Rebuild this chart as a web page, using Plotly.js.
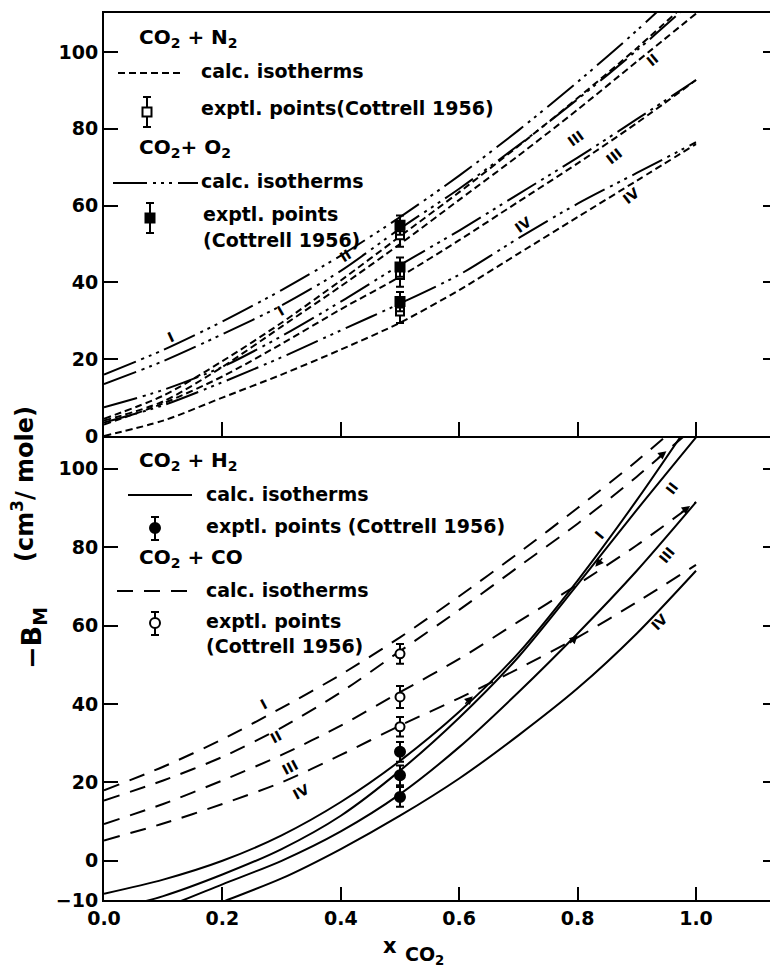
<!DOCTYPE html>
<html>
<head>
<meta charset="utf-8">
<script src="https://cdn.plot.ly/plotly-3.0.1.min.js"></script>
<style>html,body{margin:0;padding:0;background:#fff;}#chart{width:770px;height:973px;}</style>
</head>
<body>
<div id="chart"></div>
<script>
// ---------- data ----------
const xGrid = [0, 0.1, 0.2, 0.3, 0.4, 0.5, 0.6, 0.7, 0.8, 0.9, 1.0];

// upper panel: CO2 + N2 (dashed) and CO2 + O2 (dash-dot-dot), isotherms I..IV
const n2_I   = [4.5, 10.5, 19.5, 29.5, 40.5, 52, 63.5, 75.5, 88, 101, 115];
const n2_II  = [4, 9, 18, 28.5, 39, 50, 61.5, 73, 85, 97.5, 110];
const n2_III = [3, 8.5, 15.5, 24, 33, 41.5, 51, 61, 71, 81.5, 92.7];
const n2_IV  = [0, 4, 10, 16, 22.5, 29.5, 38, 47.5, 57, 66.5, 76];
const o2_I   = [16, 22.4, 29.8, 38, 47, 57, 67.8, 79.6, 92.2, 105.6, 120];
const o2_II  = [13.5, 19.5, 26.5, 34, 43, 54, 64.4, 75.7, 87.7, 100.4, 114];
const o2_III = [7.5, 12, 18, 26, 35, 44.5, 53.5, 63, 72.5, 82.5, 92.7];
const o2_IV  = [3.5, 8, 14, 20.5, 27.5, 34.5, 42, 51.5, 60.5, 68.5, 76.5];

// lower panel: CO2 + H2 (solid) and CO2 + CO (long dashes)
const h2_I   = [-8.4, -4.8, 0, 6.5, 15, 25.5, 38, 53, 71.5, 92, 114];
const h2_II  = [-13, -9, -3.5, 3, 11.5, 23, 36.5, 52, 70.5, 89.5, 108];
const h2_III = [-17, -12, -6, 0, 7.5, 17, 29, 43, 58, 74, 91.5];
const h2_IV  = [-21, -16.5, -10.5, -4.5, 3, 11.5, 21, 32, 44, 58, 74];
const co_I   = [18, 24, 31, 39, 47.5, 57, 67.5, 78.5, 90, 102, 115];
const co_II  = [15.4, 20.5, 26.5, 34, 43, 53.5, 64, 75, 86, 98, 111];
const co_III = [9.4, 14.5, 20.5, 27, 34.5, 43, 51.5, 61, 70.5, 80.5, 91.5];
const co_IV  = [5.2, 9.5, 14.5, 20, 27, 34.5, 41.5, 49, 57, 66, 75.5];

// experimental points (Cottrell 1956) at x = 0.5
const ptX     = [0.5, 0.5, 0.5];
const n2Pts   = [52.3, 41.9, 32.4];
const n2Err   = [3, 3, 3];
const o2Pts   = [54.9, 44.0, 35.0];
const o2Err   = [2.5, 2.5, 2.5];
const h2Pts   = [27.8, 21.8, 16.3];
const h2Err   = [2.5, 2.5, 2.5];
const coPts   = [52.8, 41.8, 34.2];
const coErr   = [2.5, 2.8, 2.5];

// tick labels
const xTickVals  = [0, 0.2, 0.4, 0.6, 0.8, 1.0];
const xTickText  = ['0.0', '0.2', '0.4', '0.6', '0.8', '1.0'];
const yTopTicks  = [0, 20, 40, 60, 80, 100];
const yBotTicks  = [-10, 0, 20, 40, 60, 80, 100];

// curve labels (roman numerals)
const topLabels = [
  {t:'I',   x:0.113, y:25.8, a:-25},
  {t:'I',   x:0.298, y:32.5, a:-30},
  {t:'II',  x:0.407, y:47.0, a:-32},
  {t:'IV',  x:0.707, y:55.0, a:-35},
  {t:'III', x:0.798, y:77.5, a:-36},
  {t:'III', x:0.862, y:73.0, a:-38},
  {t:'IV',  x:0.890, y:62.5, a:-38},
  {t:'II',  x:0.926, y:98.0, a:-40}
];
const botLabels = [
  {t:'I',   x:0.270, y:40.0, a:-28},
  {t:'II',  x:0.290, y:31.5, a:-28},
  {t:'III', x:0.315, y:24.0, a:-28},
  {t:'IV',  x:0.332, y:17.5, a:-28},
  {t:'I',   x:0.837, y:83.0, a:-50},
  {t:'II',  x:0.960, y:95.0, a:-52},
  {t:'III', x:0.951, y:78.0, a:-50},
  {t:'IV',  x:0.938, y:61.0, a:-45}
];
// small arrow marks drawn on the lower-panel curves (head position, tail offset in px)
const botArrows = [
  {x:0.830, y:75.0, ax:8,   ay:-10},
  {x:0.623, y:42.0, ax:-9,  ay:9},
  {x:0.800, y:57.5, ax:-9,  ay:9},
  {x:0.950, y:104.5, ax:-10, ay:8},
  {x:0.990, y:90.5, ax:-10, ay:7}
];

// ---------- styles ----------
const K = '#000';
const FONT = 'DejaVu Sans';
const DASH_N2 = '7px,4px';
const DASH_O2 = '34px,6px,3px,5px,3px,5px,3px,6px';
const DASH_CO = '16px,11px';
const LW = 2;

const W = 770, H = 973, ML = 104, MT = 13, MB = 73;
const PW = W - ML, PH = H - MT - MB;
const px = v => (v - ML) / PW;
const py = v => (H - MB - v) / PH;
const split = py(436);

function curve(y, dash, xa, ya) {
  return {x: xGrid, y: y, xaxis: xa, yaxis: ya, mode: 'lines', type: 'scatter',
    line: {color: K, width: LW, dash: dash, shape: 'spline', smoothing: 0.8},
    showlegend: false, hoverinfo: 'skip'};
}
function pts(y, err, sym, fill, size, xa, ya) {
  return {x: ptX, y: y, xaxis: xa, yaxis: ya, mode: 'markers', type: 'scatter',
    marker: {symbol: sym, size: size, color: fill, line: {color: K, width: 2}},
    error_y: {type: 'data', array: err, visible: true, color: K, thickness: 2, width: 4},
    showlegend: false, hoverinfo: 'skip'};
}

const traces = [
  curve(n2_I, DASH_N2, 'x2', 'y2'), curve(n2_II, DASH_N2, 'x2', 'y2'),
  curve(n2_III, DASH_N2, 'x2', 'y2'), curve(n2_IV, DASH_N2, 'x2', 'y2'),
  curve(o2_I, DASH_O2, 'x2', 'y2'), curve(o2_II, DASH_O2, 'x2', 'y2'),
  curve(o2_III, DASH_O2, 'x2', 'y2'), curve(o2_IV, DASH_O2, 'x2', 'y2'),
  pts(n2Pts, n2Err, 'square', '#fff', 8, 'x2', 'y2'),
  pts(o2Pts, o2Err, 'square', K, 9, 'x2', 'y2'),
  curve(h2_I, 'solid', 'x', 'y'), curve(h2_II, 'solid', 'x', 'y'),
  curve(h2_III, 'solid', 'x', 'y'), curve(h2_IV, 'solid', 'x', 'y'),
  curve(co_I, DASH_CO, 'x', 'y'), curve(co_II, DASH_CO, 'x', 'y'),
  curve(co_III, DASH_CO, 'x', 'y'), curve(co_IV, DASH_CO, 'x', 'y'),
  pts(coPts, coErr, 'circle', '#fff', 9, 'x', 'y'),
  pts(h2Pts, h2Err, 'circle', K, 10, 'x', 'y'),
  {x: [], y: [], xaxis: 'x', yaxis: 'y3', type: 'scatter', showlegend: false},
  {x: [], y: [], xaxis: 'x2', yaxis: 'y4', type: 'scatter', showlegend: false}
];

const tickFont = {family: FONT, size: 19, color: K, weight: 'bold'};
const xRange = [0, (W - ML) / 592];
const yTopRange = [0, 110.16];
const yBotRange = [-10, 108.37];

const baseAx = {showgrid: false, zeroline: false, showline: true, linecolor: K, linewidth: 2,
  ticks: 'inside', tickcolor: K, tickwidth: 2, tickfont: tickFont, fixedrange: true};

const annotations = [];
const shapes = [];
function txt(text, x, y, size, opts) {
  annotations.push(Object.assign({text: text, xref: 'paper', yref: 'paper', x: px(x), y: py(y),
    xanchor: 'left', yanchor: 'middle', showarrow: false,
    font: {family: FONT, size: size, color: K, weight: 'bold'}}, opts || {}));
}
function seg(x0, y0, x1, y1, dash) {
  shapes.push({type: 'line', xref: 'paper', yref: 'paper', x0: px(x0), y0: py(y0), x1: px(x1), y1: py(y1),
    line: {color: K, width: 2, dash: dash || 'solid'}});
}
function errSym(cx, cy, top, bot, kind) {
  seg(cx, top, cx, bot); seg(cx - 4, top, cx + 4, top); seg(cx - 4, bot, cx + 4, bot);
  const r = kind.indexOf('circle') >= 0 ? 5 : 4.5;
  shapes.push({type: kind.indexOf('circle') >= 0 ? 'circle' : 'rect', xref: 'paper', yref: 'paper',
    x0: px(cx - r), x1: px(cx + r), y0: py(cy + r), y1: py(cy - r),
    fillcolor: kind.indexOf('open') >= 0 ? '#fff' : K, line: {color: K, width: 2}});
}

// upper legend block
txt('CO<sub>2</sub> + N<sub>2</sub>', 137, 38, 20);
seg(118, 73, 184, 73, DASH_N2);
txt('calc. isotherms', 199, 71, 19);
errSym(147, 112, 97, 127, 'square-open');
txt('exptl. points(Cottrell 1956)', 199, 108, 19);
txt('CO<sub>2</sub>+ O<sub>2</sub>', 137, 148, 20);
seg(113, 183, 198, 183, DASH_O2);
txt('calc. isotherms', 199, 181, 19);
errSym(150, 218, 203, 233, 'square');
txt('exptl. points', 201, 214, 19);
txt('(Cottrell 1956)', 201, 240, 19);

// lower legend block
txt('CO<sub>2</sub> + H<sub>2</sub>', 137, 461, 20);
seg(128, 495, 192, 495);
txt('calc. isotherms', 204, 494, 19);
errSym(155, 528, 517, 540, 'circle');
txt('exptl. points (Cottrell 1956)', 204, 526, 19);
txt('CO<sub>2</sub> + CO', 137, 558, 20);
seg(117, 591, 192, 591, DASH_CO);
txt('calc. isotherms', 204, 590, 19);
errSym(155, 623, 612, 635, 'circle-open');
txt('exptl. points', 204, 621, 19);
txt('(Cottrell 1956)', 204, 646, 19);

// axis titles
txt('−B<sub>M</sub>', 33, 638, 27, {textangle: -90, xanchor: 'center', yanchor: 'middle'});
txt('(cm<sup>3</sup>/ mole)', 23, 484, 24, {textangle: -90, xanchor: 'center', yanchor: 'middle'});
txt('x', 390, 946, 21, {xanchor: 'center'});
txt('CO<sub>2</sub>', 403, 956, 19);

// roman numeral curve labels
topLabels.forEach(l => annotations.push({text: l.t, x: l.x, y: l.y, xref: 'x2', yref: 'y2',
  showarrow: false, textangle: l.a, xanchor: 'center', yanchor: 'middle',
  font: {family: FONT, size: 14, color: K, weight: 'bold'}}));
botLabels.forEach(l => annotations.push({text: l.t, x: l.x, y: l.y, xref: 'x', yref: 'y',
  showarrow: false, textangle: l.a, xanchor: 'center', yanchor: 'middle',
  font: {family: FONT, size: 14, color: K, weight: 'bold'}}));
botArrows.forEach(a => annotations.push({text: '', x: a.x, y: a.y, xref: 'x', yref: 'y',
  ax: a.ax, ay: a.ay, axref: 'pixel', ayref: 'pixel', showarrow: true,
  arrowhead: 2, arrowsize: 1.1, arrowwidth: 1.5, arrowcolor: K, standoff: 0}));

const layout = {
  width: W, height: H,
  margin: {l: ML, r: 0, t: MT, b: MB, pad: 0},
  paper_bgcolor: '#fff', plot_bgcolor: '#fff',
  showlegend: false,
  xaxis: Object.assign({}, baseAx, {anchor: 'y', domain: [0, 1], range: xRange,
    tickvals: xTickVals, ticktext: xTickText, ticklen: 13}),
  xaxis2: Object.assign({}, baseAx, {anchor: 'y2', domain: [0, 1], range: xRange, mirror: true,
    tickvals: xTickVals.slice(1), showticklabels: false, ticklen: 14}),
  yaxis: Object.assign({}, baseAx, {anchor: 'x', domain: [0, split], range: yBotRange,
    tickvals: yBotTicks, ticklen: 14}),
  yaxis2: Object.assign({}, baseAx, {anchor: 'x2', domain: [split, 1], range: yTopRange,
    tickvals: yTopTicks, ticklen: 14}),
  yaxis3: Object.assign({}, baseAx, {anchor: 'x', overlaying: 'y', side: 'right', range: yBotRange,
    showline: false, tickvals: yBotTicks.slice(1), showticklabels: false, ticklen: 7}),
  yaxis4: Object.assign({}, baseAx, {anchor: 'x2', overlaying: 'y2', side: 'right', range: yTopRange,
    showline: false, tickvals: yTopTicks.slice(1), showticklabels: false, ticklen: 7}),
  annotations: annotations,
  shapes: shapes
};

Plotly.newPlot('chart', traces, layout, {staticPlot: true, displayModeBar: false});
</script>
</body>
</html>
